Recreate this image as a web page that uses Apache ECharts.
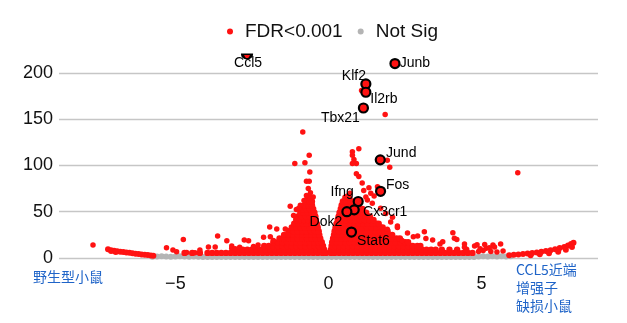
<!DOCTYPE html>
<html><head><meta charset="utf-8">
<script src="https://cdn.jsdelivr.net/npm/echarts@6/dist/echarts.min.js"></script>
<style>html,body{margin:0;padding:0;background:#fff}#c{width:627px;height:323px}</style>
</head><body><div id="c"></div>
<script>
// ---- axis ticks ----
const xTickValues = [-5, 0, 5];
const yTickValues = [0, 50, 100, 150, 200];

// ---- labelled genes ----
const geneNames = ['Ccl5', 'Junb', 'Klf2', 'Il2rb', 'Tbx21', 'Jund', 'Fos', 'Ifng', 'Cx3cr1', 'Dok2', 'Stat6'];
const geneLogFC = [-2.66, 2.17, 1.22, 1.22, 1.14, 1.69, 1.70, 0.97, 0.84, 0.60, 0.75];
const geneNegLogFDR = [220, 210, 188, 179, 162, 106, 72, 61, 52, 50, 28];

// ---- FDR<0.001 : dense body, rows of points (y level, x values) ----
const sigRowY = [5.5, 9, 13, 17, 21, 25, 29, 33, 37, 41, 45, 49, 53, 57, 61, 65];
const sigRowXLeft = [
  [-4.7,-4.45,-4.2,-3.95,-3.8,-3.65,-3.5,-3.35,-3.2,-3.05,-2.9,-2.75,-2.6,-2.45,-2.3,-2.15,-2.0,-1.85,-1.7,-1.55,-1.4,-1.25,-1.1,-0.95,-0.8,-0.65,-0.5,-0.35,-0.2,-0.08],
  [-3.1,-2.95,-2.8,-2.65,-2.5,-2.35,-2.2,-2.05,-1.9,-1.75,-1.6,-1.45,-1.3,-1.15,-1.0,-0.85,-0.7,-0.55,-0.4,-0.26,-0.14],
  [-2.1,-1.95,-1.8,-1.65,-1.5,-1.35,-1.2,-1.05,-0.9,-0.75,-0.6,-0.45,-0.31,-0.18],
  [-1.8,-1.65,-1.5,-1.35,-1.2,-1.05,-0.9,-0.75,-0.6,-0.46,-0.33,-0.22],
  [-1.6,-1.45,-1.3,-1.15,-1.0,-0.85,-0.7,-0.55,-0.41,-0.27],
  [-1.45,-1.3,-1.15,-1.0,-0.85,-0.7,-0.56,-0.43,-0.3],
  [-1.3,-1.15,-1.0,-0.85,-0.71,-0.57,-0.44,-0.32],
  [-1.2,-1.05,-0.91,-0.77,-0.63,-0.49,-0.35],
  [-1.12,-0.98,-0.84,-0.7,-0.56,-0.44,-0.38],
  [-1.05,-0.92,-0.79,-0.66,-0.53,-0.41],
  [-1.0,-0.87,-0.74,-0.61,-0.48,-0.43],
  [-0.92,-0.8,-0.68,-0.56,-0.46],
  [-0.85,-0.73,-0.61,-0.5],
  [-0.78,-0.66,-0.54],
  [-0.72,-0.62,-0.54],
  [-0.68,-0.6]
];
const sigRowXRight = [
  [0.08,0.2,0.35,0.5,0.65,0.8,0.95,1.1,1.25,1.4,1.55,1.7,1.85,2.0,2.15,2.3,2.45,2.6,2.75,2.9,3.05,3.2,3.35,3.5,3.65,3.8,3.95,4.1,4.25,4.4,4.55,4.7],
  [0.08,0.2,0.35,0.5,0.65,0.8,0.95,1.1,1.25,1.4,1.55,1.7,1.85,2.0,2.15,2.3,2.45,2.6,2.75,2.9,3.05,3.2,3.35,3.5,3.7,3.95,4.2,4.5],
  [0.1,0.22,0.35,0.5,0.65,0.8,0.95,1.1,1.25,1.4,1.55,1.7,1.85,2.0,2.15,2.3,2.45,2.6,2.75,2.9,3.0],
  [0.12,0.25,0.4,0.55,0.7,0.85,1.0,1.15,1.3,1.45,1.6,1.75,1.9,2.05,2.2,2.35,2.5,2.6],
  [0.15,0.28,0.42,0.57,0.72,0.87,1.02,1.17,1.32,1.47,1.62,1.77,1.92,2.07,2.22,2.33],
  [0.18,0.31,0.45,0.6,0.75,0.9,1.05,1.2,1.35,1.5,1.65,1.8,1.95,2.08],
  [0.2,0.34,0.48,0.63,0.78,0.93,1.08,1.23,1.38,1.53,1.68,1.83,1.93],
  [0.23,0.37,0.51,0.66,0.81,0.96,1.11,1.26,1.41,1.56,1.7,1.77],
  [0.26,0.4,0.54,0.69,0.84,0.99,1.14,1.29,1.44,1.57,1.64],
  [0.3,0.44,0.58,0.73,0.88,1.03,1.18,1.33,1.47],
  [0.33,0.47,0.61,0.76,0.91,1.06,1.21,1.35],
  [0.36,0.5,0.64,0.79,0.94,1.09,1.23],
  [0.4,0.54,0.68,0.83,0.98,1.11],
  [0.43,0.57,0.71,0.85,0.97],
  [0.47,0.6,0.73,0.82],
  [0.55,0.67]
];

// ---- FDR<0.001 : scattered outliers and the two tails (x, y) ----
const sigScatterX = [
  -7.69,-5.29,-5.08,-4.96,-4.74,-4.63,-4.36,-4.2,-3.92,-3.7,-3.62,-3.32,-3.16,-3.16,-3.05,-2.9,-2.75,-2.61,-2.45,-2.3,-2.12,-1.92,-1.69,-1.9,-1.8,-1.41,-1.33,
  -1.25,-1.05,-0.92,-1.06,-1.14,-1.1,-0.77,-0.63,-0.84,-0.61,-0.72,-0.63,-0.72,-0.59,-0.66,-0.97,-0.8,-0.5,
  0.99,0.78,0.78,0.83,0.91,0.78,0.91,0.99,1.1,2.0,1.92,1.32,1.49,1.6,1.38,1.27,1.43,1.7,1.87,2.03,1.92,2.25,2.09,2.25,2.58,2.77,2.91,3.13,3.18,3.4,3.64,3.73,
  4.06,4.11,4.19,4.44,4.44,4.77,4.85,5.1,5.15,5.37,5.42,5.62,6.18,1.08,1.85,1.15,0.7,0.62,1.22,2.4,2.96,
  4.9,5.05,5.3,5.5,5.7,4.95,5.25
];
const sigScatterY = [
  14,11,8.6,6.8,20,6,5.7,8.6,12,12,23.7,18.7,13,10.5,10,11.5,19.4,18.7,12.5,14,22.3,33.5,31.3,23,19,31.3,25,
  56,52.5,57,42,46,102,103,111,136,93,83,83,67.6,70.5,75,53.6,62,66,
  118,114.7,111,106.5,102,102,91,88,81,98,105.7,76,67,77,70,62.6,59,53.6,48,39,31,33,44,34.5,27,23,23.7,28.4,21,19.4,15,17.6,
  27.3,21.2,20,15,11.5,13,14.4,14.7,10.5,14,12,15,92,181,155,73,70,67,66,19,12,
  7,8,7,6.5,7.5,10,11
];
const tailX = [
  -7.2,-7.1,-7.0,-6.9,-6.8,-6.7,-6.6,-6.5,-6.4,-6.3,-6.2,-6.1,-6.0,-5.9,-5.8,-5.72,-7.1,-6.95,
  5.9,6.05,6.2,6.35,6.5,6.65,6.8,6.95,7.1,7.25,7.4,7.55,7.7,7.82,7.92,8.0,6.6,6.9,7.2,7.5,7.75,7.95
];
const tailY = [
  9.4,8.5,7.9,7.3,6.8,6.4,6.0,5.6,5.1,4.7,4.3,3.9,3.5,3.2,2.8,2.5,7.5,6.6,
  3.0,3.4,3.8,4.3,4.8,5.4,6.0,6.8,7.6,8.5,9.5,10.7,12.0,13.5,15.0,16.5,3.0,4.0,5.2,6.8,9.0,12.0
];

// ---- Not Sig ----
const notSigX = [
  -5.75,-5.6,-5.45,-5.3,-5.15,-5.0,-4.85,-4.7,-4.55,-4.4,-4.25,-4.1,-3.95,-3.8,-3.65,-3.5,-3.35,-3.2,-3.05,-2.9,-2.75,-2.6,-2.45,-2.3,-2.15,-2.0,-1.85,-1.7,-1.55,-1.4,-1.25,-1.1,-0.95,-0.8,-0.65,-0.5,-0.35,-0.2,-0.05,
  0.1,0.25,0.4,0.55,0.7,0.85,1.0,1.15,1.3,1.45,1.6,1.75,1.9,2.05,2.2,2.35,2.5,2.65,2.8,2.95,3.1,3.25,3.4,3.55,3.7,3.85,4.0,4.15,4.3,4.45,4.6,4.75,4.9,5.05,5.2,5.35,5.5,5.65,5.8,5.95,
  0.0
];
const notSigY = [
  1.3,1.6,1.8,1.6,1.3,1.6,1.8,1.6,1.3,1.6,1.3,1.2,1.2,1.2,1.2,1.2,1.2,1.2,1.2,1.2,1.2,1.2,1.2,1.2,1.2,1.2,1.2,1.2,1.2,1.2,1.2,1.2,1.2,1.2,1.2,1.2,1.2,1.2,1.2,
  1.2,1.2,1.2,1.2,1.2,1.2,1.2,1.2,1.2,1.2,1.2,1.2,1.2,1.2,1.2,1.2,1.2,1.2,1.2,1.2,1.2,1.2,1.2,1.2,1.2,1.2,1.2,1.2,1.2,1.2,1.2,1.2,1.5,1.8,1.5,1.8,1.5,1.8,1.5,1.8,
  3.5
];

// ---- styling (positions of gene labels, relative to their point) ----
const geneLabelOffset = {
  Ccl5: [1, 7], Junb: [20, 0], Klf2: [-12, -8], Il2rb: [18, 7], Tbx21: [-23, 10],
  Jund: [21, -7], Fos: [17, -6], Ifng: [-16, -9], Cx3cr1: [31, 2], Dok2: [-21, 10], Stat6: [22, 9]
};

const RED = '#ff1212';
const GRAY = '#b4b4b4';
const FONT = '"Liberation Sans", Arial, sans-serif';

const fillData = [];
sigRowY.forEach((y, i) => {
  sigRowXLeft[i].forEach(x => fillData.push([x, y]));
  sigRowXRight[i].forEach(x => fillData.push([x, y]));
});
const scatterData = sigScatterX.map((x, i) => [x, sigScatterY[i]]);
const tailData = tailX.map((x, i) => [x, tailY[i]]);
const grayData = notSigX.map((x, i) => [x, notSigY[i]]);
// the Ccl5 point sits on the top border of the plot: only its lower half is visible
const HALF_DOT = 'path://M0,0 L10,0 A5,5 0 0 1 0,0 Z';
const geneData = geneNames.map((n, i) => {
  const item = {
    name: n,
    value: [geneLogFC[i], geneNegLogFDR[i]],
    label: { offset: geneLabelOffset[n] }
  };
  if (geneNegLogFDR[i] >= 220) {
    item.symbol = HALF_DOT;
    item.symbolSize = [9, 4.5];
    item.symbolOffset = [0, 2.25];
  }
  return item;
});

const chart = echarts.init(document.getElementById('c'), null, { renderer: 'canvas' });
chart.setOption({
  animation: false,
  backgroundColor: '#ffffff',
  textStyle: { fontFamily: FONT },
  legend: {
    data: [{ name: 'FDR<0.001', icon: 'circle' }, { name: 'Not Sig', icon: 'circle' }],
    left: 222, top: 17,
    itemWidth: 20, itemHeight: 6, itemGap: 15,
    textStyle: { fontSize: 19, color: '#111', fontFamily: FONT }
  },
  grid: { left: 59, right: 29, top: 54.3, bottom: 65 },
  xAxis: {
    type: 'value', min: -8.8, max: 8.8,
    axisLine: { show: false }, axisTick: { show: false }, splitLine: { show: false },
    axisLabel: {
      customValues: xTickValues,
      fontSize: 18, color: '#111', margin: 17, fontFamily: FONT,
      formatter: v => (v < 0 ? '\u2212' + Math.abs(v) : String(v))
    }
  },
  yAxis: {
    type: 'value', min: 0, max: 220, interval: 50,
    axisLine: { show: false }, axisTick: { show: false },
    splitLine: { show: true, showMaxLine: false, lineStyle: { color: '#c6c6c6', width: 1.3 } },
    axisLabel: {
      customValues: yTickValues,
      fontSize: 18, color: '#111', margin: 6, fontFamily: FONT
    }
  },
  series: [
    { name: 'Not Sig', type: 'scatter', data: grayData, symbolSize: 6, clip: false, z: 1,
      itemStyle: { color: GRAY, opacity: 1 }, emphasis: { disabled: true } },
    { name: 'FDR<0.001', type: 'scatter', data: fillData, symbolSize: 6.4, clip: false, z: 2,
      itemStyle: { color: RED, opacity: 1 }, emphasis: { disabled: true } },
    { name: 'FDR<0.001', type: 'scatter', data: tailData, symbolSize: 6, clip: false, z: 2,
      itemStyle: { color: RED, opacity: 1 }, emphasis: { disabled: true } },
    { name: 'FDR<0.001', type: 'scatter', data: scatterData, symbolSize: 5.5, clip: false, z: 2,
      itemStyle: { color: RED, opacity: 1 }, emphasis: { disabled: true } },
    { name: 'genes', type: 'scatter', data: geneData, symbolSize: 9, clip: false, z: 3,
      itemStyle: { color: RED, borderColor: '#000', borderWidth: 2.2, opacity: 1 },
      label: { show: true, position: 'inside', formatter: '{b}', fontSize: 14, color: '#000',
        textBorderWidth: 0, fontFamily: FONT },
      emphasis: { disabled: true } }
  ],
  graphic: [
    { type: 'text', left: 33, top: 270, style: { text: '野生型小鼠', fontSize: 14, fill: '#1f64c8',
      fontFamily: '"Noto Sans CJK SC", sans-serif' } },
    { type: 'text', left: 516, top: 261, style: { text: 'CCL5近端\n增强子\n缺损小鼠', fontSize: 14, lineHeight: 18,
      fill: '#1f64c8', fontFamily: '"Noto Sans CJK SC", sans-serif' } }
  ]
});
</script>
</body></html>
